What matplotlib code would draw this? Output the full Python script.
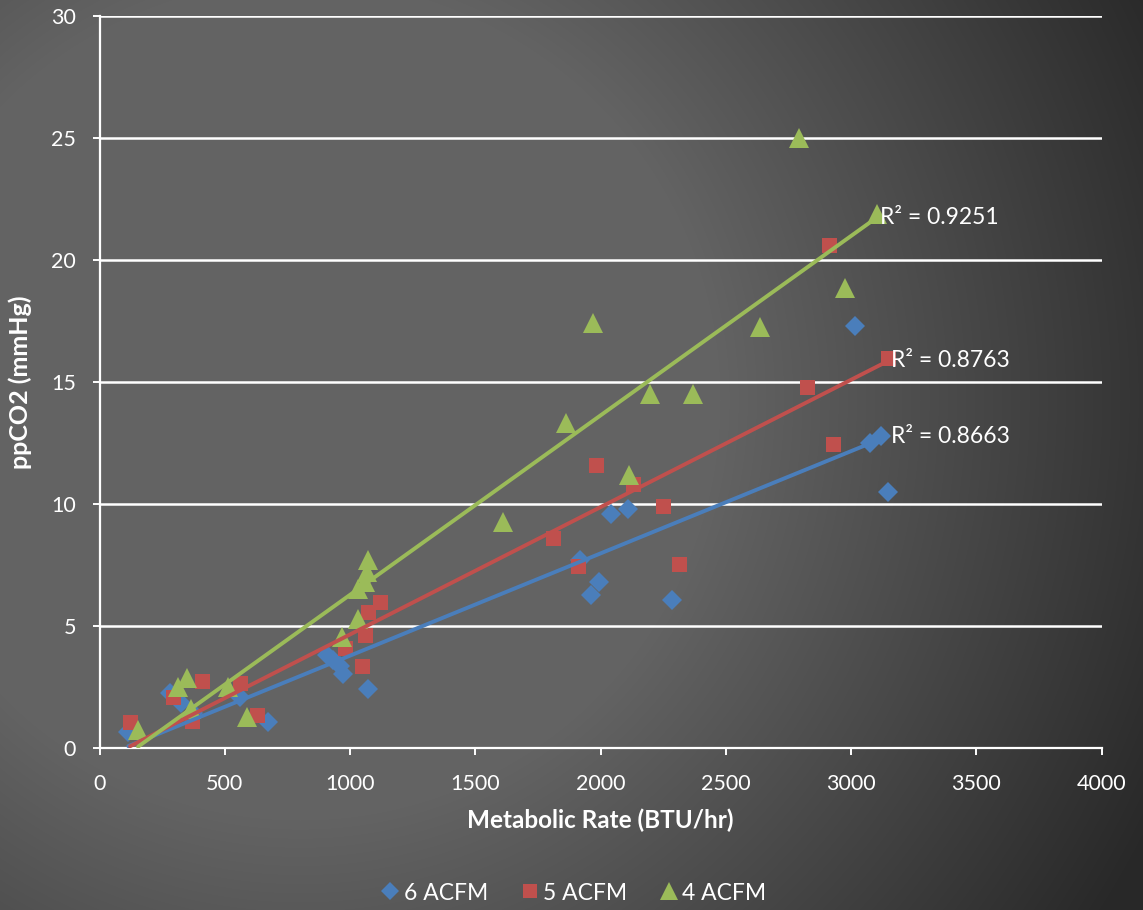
import numpy as np
import matplotlib
matplotlib.use("Agg")
import matplotlib.pyplot as plt
from matplotlib.lines import Line2D

plt.rcParams['font.family'] = ['Lato', 'DejaVu Sans']

# ---- data ----
series_names = ["6 ACFM", "5 ACFM", "4 ACFM"]

x_6 = [115, 281, 325, 375, 561, 673, 907, 932, 960, 973, 1073,
       1918, 1962, 1994, 2042, 2110, 2285, 3016, 3076, 3119, 3147]
y_6 = [0.65, 2.25, 1.84, 1.45, 2.1, 1.07, 3.8, 3.6, 3.35, 3.05, 2.4,
       7.7, 6.27, 6.8, 9.6, 9.8, 6.07, 17.3, 12.5, 12.8, 10.5]

x_5 = [122, 293, 370, 409, 561, 629, 979, 1048, 1060, 1072, 1119,
       1810, 1910, 1982, 2130, 2249, 2313, 2824, 2912, 2928, 3148]
y_5 = [1.07, 2.1, 1.1, 2.75, 2.66, 1.35, 4.1, 3.35, 4.63, 5.57, 5.98,
       8.6, 7.46, 11.6, 10.8, 9.9, 7.54, 14.8, 20.6, 12.46, 16.0]

x_4 = [154, 314, 349, 365, 513, 588, 968, 1030, 1033, 1060, 1067, 1073,
       1611, 1862, 1970, 2113, 2198, 2369, 2637, 2792, 2976, 3104]
y_4 = [0.74, 2.5, 2.87, 1.6, 2.5, 1.27, 4.55, 6.5, 5.3, 6.8, 7.2, 7.7,
       9.26, 13.3, 17.4, 11.2, 14.5, 14.5, 17.25, 25.0, 18.85, 21.9]

r2_labels = ["R² = 0.8663", "R² = 0.8763", "R² = 0.9251"]

x_ticks = [0, 500, 1000, 1500, 2000, 2500, 3000, 3500, 4000]
y_ticks = [0, 5, 10, 15, 20, 25, 30]

colors = ["#4A7EBB", "#C0504D", "#9BBB59"]
markers = ["D", "s", "^"]
msizes = [10.0, 10.8, 14.0]

W, H = 1143, 910
fig = plt.figure(figsize=(W / 100, H / 100), dpi=100)

# background gradient
bg = fig.add_axes([0, 0, 1, 1], zorder=-10)
yy, xx = np.mgrid[0:H, 0:W]
d = np.hypot(xx - 300, yy - 400)
val = np.clip(99 - 0.11 * (d - 420), 40, 99) / 255.0
bg.imshow(np.dstack([val, val, val]), aspect='auto', extent=[0, 1, 0, 1],
          interpolation='bilinear')
bg.set_axis_off()

ax = fig.add_axes([99.5 / W, 1 - 748 / H, (1101.5 - 99.5) / W, (748 - 16) / H])
ax.set_facecolor('none')

xs = [x_6, x_5, x_4]
ys = [y_6, y_5, y_4]

for xv, yv, c, m, ms, name in zip(xs, ys, colors, markers, msizes, series_names):
    ax.plot(xv, yv, linestyle='none', marker=m, markersize=ms, color=c,
            markeredgewidth=0, label=name, zorder=3)

for xv, yv, c, lab in zip(xs, ys, colors, r2_labels):
    k, b = np.polyfit(xv, yv, 1)
    x0, x1 = min(xv), max(xv)
    ax.plot([x0, x1], [k * x0 + b, k * x1 + b], color=c, lw=2.8,
            solid_capstyle='round', zorder=4)
    ax.annotate(lab, (x1, k * x1 + b), xytext=(2, 0), textcoords='offset points',
                ha='left', va='center', color='white', fontsize=16.5, zorder=5)

ax.set_xlim(0, 4000)
ax.set_ylim(0, 30)
ax.set_xticks(x_ticks)
ax.set_yticks(y_ticks)
ax.grid(axis='y', color='white', lw=1.8, zorder=1)
ax.set_axisbelow(True)
for s in ['top', 'right']:
    ax.spines[s].set_visible(False)
for s in ['left', 'bottom']:
    ax.spines[s].set_color('white')
    ax.spines[s].set_linewidth(1.6)
ax.tick_params(axis='both', colors='white', direction='out', length=5, width=1.4,
               labelsize=15.5)
ax.tick_params(axis='x', pad=14)
ax.tick_params(axis='y', pad=12)

ax.set_xlabel("Metabolic Rate (BTU/hr)", color='white', fontsize=17.5,
              fontweight='bold', labelpad=10)
ax.set_ylabel("ppCO2 (mmHg)", color='white', fontsize=18, fontweight='bold',
              labelpad=14)

handles = [Line2D([], [], linestyle='none', marker=m, markersize=ms * 0.95, color=c,
                  markeredgewidth=0) for m, ms, c in zip(markers, msizes, colors)]
leg = fig.legend(handles, series_names, loc='center', bbox_to_anchor=(0.5, 1 - 893 / H),
                 ncol=3, frameon=False, fontsize=16.5, handletextpad=0.0,
                 columnspacing=1.2, handlelength=1.2)
for t in leg.get_texts():
    t.set_color('white')

fig.savefig("out.png", dpi=100)
